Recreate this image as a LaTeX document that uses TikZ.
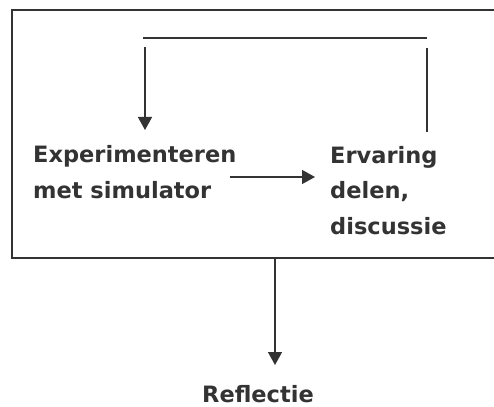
\documentclass[tikz,border=0pt]{standalone}
\usepackage{fontspec}
\setmainfont{DejaVu Sans}
\usetikzlibrary{positioning, arrows.meta}
\definecolor{ink}{HTML}{333333}

\begin{document}
\begin{tikzpicture}[x=1pt, y=-1pt, >={Triangle[length=13pt,width=14pt]},
    every node/.style={font=\fontsize{22.5}{35.5}\selectfont\bfseries, text=ink, inner sep=0pt, align=left},
    line/.style={draw=ink, line width=1.4pt}]
    \useasboundingbox (0,0) rectangle (494,406);

    % Frame (its right side runs off the page)
    \draw[line] (494,10) -- (12,10) -- (12,258) -- (494,258);

    % Steps (base = last line)
    \node[anchor=base west] (exp) at (33,198) {Experimenteren\\met simulator};
    \node[anchor=base west] (erv) at (330,234) {Ervaring\\delen,\\discussie};
    \node[anchor=base] (refl) at (258,402) {Reflectie};

    % Feedback loop
    \coordinate (backS) at (427,132);
    \coordinate (backN) at (427,48);
    \coordinate (topR) at (427,38);
    \coordinate (topL) at (143,38);
    \coordinate (downN) at (145,47);
    \coordinate (downS) at (145,130);
    \draw[line] (backS) -- (backN);
    \draw[line] (topL) -- (topR);
    \draw[line, ->] (downN) -- (downS);

    % Forward arrow
    \coordinate (fwdW) at (230,177);
    \coordinate (fwdE) at (315,177);
    \draw[line, ->] (fwdW) -- (fwdE);

    % Out of the frame
    \coordinate (outN) at (275,258);
    \coordinate (outS) at (275,365);
    \draw[line, ->] (outN) -- (outS);
\end{tikzpicture}
\end{document}
